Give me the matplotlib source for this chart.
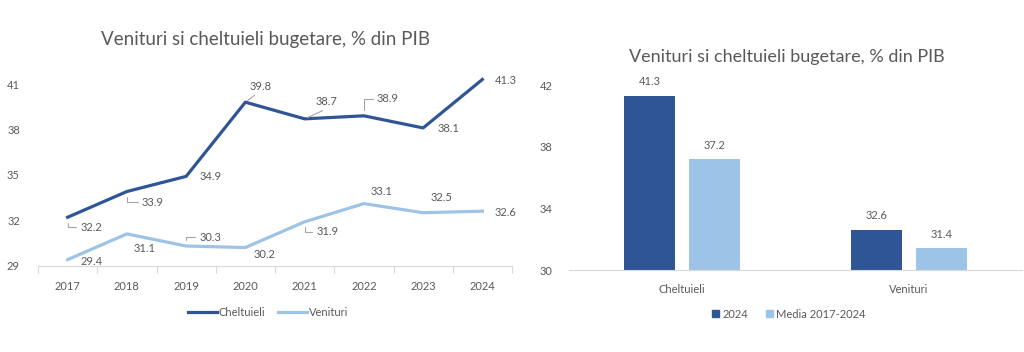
import matplotlib
matplotlib.use("Agg")
import matplotlib.pyplot as plt
from matplotlib.patches import Patch
import numpy as np

plt.rcParams['font.family'] = ['Lato', 'DejaVu Sans']

# ---- data ----
years = ["2017", "2018", "2019", "2020", "2021", "2022", "2023", "2024"]
cheltuieli = [32.2, 33.9, 34.9, 39.8, 38.7, 38.9, 38.1, 41.3]
venituri = [29.4, 31.1, 30.3, 30.2, 31.9, 33.1, 32.5, 32.6]

bar_categories = ["Cheltuieli", "Venituri"]
bar_2024 = [41.3, 32.6]
bar_media = [37.2, 31.4]

title_text = "Venituri si cheltuieli bugetare, % din PIB"
line_yticks = [29, 32, 35, 38, 41]
bar_yticks = [30, 34, 38, 42]

# ---- style ----
DARK = "#2F5597"
LIGHT = "#9DC3E6"
GRAY = "#595959"
AXIS = "#D9D9D9"
LEADER = "#A6A6A6"
FS = 8

W, H = 1024, 352
fig = plt.figure(figsize=(W / 100, H / 100), dpi=100)

def fbox(x0, x1, ytop, ybot):
    return [x0 / W, 1 - ybot / H, (x1 - x0) / W, (ybot - ytop) / H]

# ================= LEFT: line chart =================
ax = fig.add_axes(fbox(38, 512, 265.7 - 13 * 15.14, 265.7))
x = np.arange(len(years))
ax.plot(x, cheltuieli, color=DARK, lw=2.3, solid_joinstyle='round', label="Cheltuieli")
ax.plot(x, venituri, color=LIGHT, lw=2.3, solid_joinstyle='round', label="Venituri")
ax.set_xlim(-0.5, len(years) - 0.5)
ax.set_ylim(29, 42)
ax.set_yticks(line_yticks)
ax.set_xticks(x)
ax.set_xticklabels(years)
ax.set_xticks(np.arange(-0.5, len(years)), minor=True)
ax.tick_params(axis='x', which='major', length=0, pad=11, labelsize=FS, labelcolor=GRAY)
ax.tick_params(axis='x', which='minor', length=5, color=AXIS, width=0.8)
ax.tick_params(axis='y', length=0, pad=13, labelsize=FS, labelcolor=GRAY)
for s in ['top', 'right', 'left']:
    ax.spines[s].set_visible(False)
ax.spines['bottom'].set_color(AXIS)
ax.spines['bottom'].set_linewidth(0.8)

# label offsets in pixels (dx to label's left edge, dy to vertical centre), leader style
c_off = [(13, -10, 'L'), (15, -10.5, 'L'), (13, 0, None), (4, 16, 'D1'),
         (11, 17, 'D2'), (13, 17, 'L'), (14, -1, None), (12, -1, None)]
v_off = [(13, -1.5, None), (7, -15, None), (13, 9, 'L'), (8, -6.5, None),
         (12, -10, 'L'), (7, 12.6, None), (7, 15.7, None), (12, -1, None)]

def label_series(vals, offs):
    for i, (v, (dx, dy, st)) in enumerate(zip(vals, offs)):
        kw = dict(xy=(i, v), xytext=(dx, dy), textcoords='offset pixels',
                  ha='left', va='center', fontsize=FS, color=GRAY)
        if st == 'L':
            kw['arrowprops'] = dict(arrowstyle='-', color=LEADER, lw=0.8,
                                    connectionstyle='angle,angleA=0,angleB=90,rad=0',
                                    shrinkA=1, shrinkB=4)
        elif st == 'D1':
            kw['arrowprops'] = dict(arrowstyle='-', color=LEADER, lw=0.8,
                                    relpos=(0.45, 0.0), shrinkA=1, shrinkB=2)
        elif st == 'D2':
            kw['arrowprops'] = dict(arrowstyle='-', color=LEADER, lw=0.8,
                                    relpos=(0.65, 0.0), shrinkA=1, shrinkB=2)
        ax.annotate(f"{v:.1f}", **kw)

label_series(cheltuieli, c_off)
label_series(venituri, v_off)

ax.legend(loc='center', bbox_to_anchor=(268 / W, 1 - 312 / H),
          bbox_transform=fig.transFigure, ncol=2, frameon=False, fontsize=FS,
          labelcolor=GRAY, handlelength=2.6, handletextpad=0.15, columnspacing=1.2)

fig.text(265.5 / W, 1 - 40 / H, title_text, ha='center', va='center',
         fontsize=13.5, color=GRAY)

# ================= RIGHT: bar chart =================
bx = fig.add_axes(fbox(569, 1022, 85, 270))
xb = np.arange(len(bar_categories))
bw = 0.224
off = 0.143
b1 = bx.bar(xb - off, bar_2024, bw, color=DARK, label="2024")
b2 = bx.bar(xb + off, bar_media, bw, color=LIGHT, label="Media 2017-2024")
bx.set_xlim(-0.5, 1.5)
bx.set_ylim(30, 42)
bx.set_yticks(bar_yticks)
bx.set_xticks(xb)
bx.set_xticklabels(bar_categories)
bx.tick_params(axis='x', length=0, pad=10, labelsize=FS, labelcolor=GRAY)
bx.tick_params(axis='y', length=0, pad=12, labelsize=FS, labelcolor=GRAY)
for s in ['top', 'right', 'left']:
    bx.spines[s].set_visible(False)
bx.spines['bottom'].set_color(AXIS)
bx.spines['bottom'].set_linewidth(0.8)
for bars in (b1, b2):
    for r in bars:
        bx.annotate(f"{r.get_height():.1f}", xy=(r.get_x() + r.get_width() / 2, r.get_height()),
                    xytext=(0, 14), textcoords='offset pixels', ha='center', va='center',
                    fontsize=FS, color=GRAY)

handles = [Patch(color=DARK, label="2024"), Patch(color=LIGHT, label="Media 2017-2024")]
bx.legend(handles=handles, loc='center', bbox_to_anchor=(789 / W, 1 - 314 / H),
          bbox_transform=fig.transFigure, ncol=2, frameon=False, fontsize=FS,
          labelcolor=GRAY, handlelength=0.6, handleheight=0.6, handletextpad=0.3,
          columnspacing=1.6)

fig.text(786.7 / W, 1 - 57 / H, title_text, ha='center', va='center',
         fontsize=13, color=GRAY)

fig.savefig("out.png", dpi=100, facecolor='white')
